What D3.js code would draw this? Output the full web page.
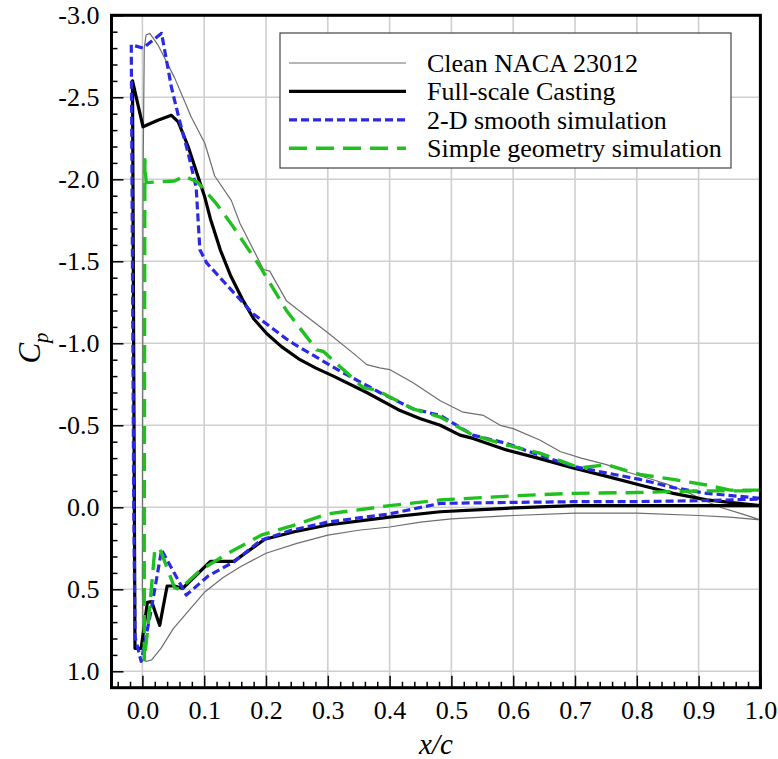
<!DOCTYPE html>
<html>
<head>
<meta charset="utf-8">
<script src="https://cdn.jsdelivr.net/npm/d3@7"></script>
<style>
  html, body { margin: 0; padding: 0; background: #fff; }
  svg { display: block; }
  text { font-family: "Liberation Serif", "Times New Roman", serif; fill: #000; }
</style>
</head>
<body>
<svg id="chart" width="778" height="759"></svg>
<script>
// ---------------- DATA ----------------
const xTicks = [0.0, 0.1, 0.2, 0.3, 0.4, 0.5, 0.6, 0.7, 0.8, 0.9, 1.0];
const xTickLabels = ["0.0", "0.1", "0.2", "0.3", "0.4", "0.5", "0.6", "0.7", "0.8", "0.9", "1.0"];
const yTicks = [-3.0, -2.5, -2.0, -1.5, -1.0, -0.5, 0.0, 0.5, 1.0];
const yTickLabels = ["-3.0", "-2.5", "-2.0", "-1.5", "-1.0", "-0.5", "0.0", "0.5", "1.0"];

const seriesNames = ["Clean NACA 23012", "Full-scale Casting", "2-D smooth simulation", "Simple geometry simulation"];

// Clean NACA 23012 (upper surface TE -> LE, then lower surface LE -> TE)
const cleanX = [1.0, 0.97, 0.94, 0.91, 0.886, 0.85, 0.816, 0.78, 0.751, 0.71, 0.676, 0.643, 0.60, 0.579, 0.552, 0.519, 0.482, 0.438, 0.40, 0.384, 0.363, 0.341, 0.298, 0.26, 0.233, 0.206, 0.196, 0.158, 0.144, 0.117, 0.101, 0.079, 0.052, 0.025, 0.012, 0.006, 0.003, 0.001, 0.0, 0.002, 0.006,
  0.015, 0.03, 0.05, 0.075, 0.10, 0.13, 0.16, 0.20, 0.25, 0.30, 0.35, 0.40, 0.45, 0.50, 0.60, 0.70, 0.80, 0.90, 0.95, 1.0];
const cleanCp = [0.077, 0.04, 0.006, -0.04, -0.085, -0.14, -0.18, -0.22, -0.26, -0.30, -0.34, -0.41, -0.48, -0.50, -0.56, -0.58, -0.65, -0.76, -0.84, -0.85, -0.87, -0.94, -1.07, -1.18, -1.26, -1.44, -1.45, -1.73, -1.87, -2.02, -2.22, -2.38, -2.62, -2.82, -2.89, -2.88, -2.80, -2.0, 0.5, 0.92, 0.94,
  0.93, 0.86, 0.74, 0.63, 0.52, 0.43, 0.36, 0.28, 0.22, 0.17, 0.14, 0.12, 0.09, 0.07, 0.05, 0.035, 0.035, 0.05, 0.06, 0.077];

// Full-scale Casting
const castX = [1.0, 0.95, 0.913, 0.859, 0.805, 0.75, 0.697, 0.64, 0.589, 0.535, 0.514, 0.482, 0.45, 0.417, 0.363, 0.309, 0.28, 0.255, 0.225, 0.201, 0.18, 0.163, 0.143, 0.126, 0.11, 0.101, 0.074, 0.058, 0.047, 0.025, 0.001, -0.016, -0.013, -0.012, -0.002,
  0.008, 0.015, 0.028, 0.040, 0.052, 0.065, 0.11, 0.148, 0.198, 0.246, 0.30, 0.40, 0.482, 0.589, 0.697, 0.80, 0.90, 1.0];
const castCp = [-0.01, -0.03, -0.045, -0.085, -0.136, -0.19, -0.24, -0.30, -0.35, -0.42, -0.44, -0.50, -0.54, -0.59, -0.70, -0.80, -0.85, -0.90, -0.98, -1.06, -1.15, -1.26, -1.41, -1.57, -1.76, -1.89, -2.20, -2.35, -2.39, -2.36, -2.32, -2.60, 0.0, 0.86, 0.86,
  0.58, 0.575, 0.72, 0.48, 0.48, 0.495, 0.33, 0.33, 0.195, 0.149, 0.108, 0.06, 0.027, 0.006, -0.01, -0.01, -0.01, -0.01];

// 2-D smooth simulation
const smoothX = [1.0, 0.913, 0.859, 0.805, 0.75, 0.697, 0.64, 0.589, 0.535, 0.482, 0.438, 0.384, 0.325, 0.293, 0.239, 0.179, 0.104, 0.093, 0.087, 0.074, 0.060, 0.047, 0.031, 0.001, -0.018, -0.014, -0.012, -0.002,
  0.014, 0.031, 0.071, 0.106, 0.149, 0.192, 0.241, 0.30, 0.40, 0.482, 0.60, 0.697, 0.80, 0.90, 1.0];
const smoothCp = [-0.055, -0.085, -0.12, -0.17, -0.21, -0.25, -0.32, -0.39, -0.44, -0.56, -0.60, -0.70, -0.82, -0.89, -1.01, -1.18, -1.49, -1.57, -1.95, -2.16, -2.36, -2.56, -2.89, -2.80, -2.82, 0.0, 0.79, 0.94,
  0.63, 0.26, 0.535, 0.42, 0.33, 0.20, 0.14, 0.09, 0.04, -0.024, -0.03, -0.034, -0.035, -0.04, -0.05];

// Simple geometry simulation
const simpleX = [1.0, 0.951, 0.913, 0.859, 0.805, 0.751, 0.708, 0.643, 0.589, 0.535, 0.482, 0.438, 0.379, 0.357, 0.293, 0.282, 0.233, 0.190, 0.147, 0.120, 0.090, 0.068, 0.052, 0.006, 0.004, 0.003, 0.003,
  0.009, 0.020, 0.028, 0.052, 0.060, 0.095, 0.139, 0.192, 0.246, 0.30, 0.40, 0.482, 0.60, 0.697, 0.80, 0.90, 1.0];
const simpleCp = [-0.105, -0.105, -0.136, -0.17, -0.20, -0.26, -0.24, -0.33, -0.38, -0.44, -0.55, -0.60, -0.715, -0.73, -0.95, -0.96, -1.20, -1.47, -1.71, -1.85, -1.98, -2.02, -1.99, -1.98, -2.12, 0.0, 0.93,
  0.73, 0.26, 0.25, 0.49, 0.50, 0.38, 0.28, 0.17, 0.108, 0.04, -0.01, -0.045, -0.07, -0.085, -0.09, -0.10, -0.10];

// ---------------- CHART ----------------
const svg = d3.select("#chart");
const x = d3.scaleLinear().domain([-0.05, 1.0]).range([111.5, 760.4]);
const y = d3.scaleLinear().domain([-3.0, 1.1]).range([15.3, 687.7]);

const x0 = x.range()[0], x1 = x.range()[1], y0 = y.range()[0], y1 = y.range()[1];

// grid
const grid = svg.append("g").attr("stroke", "#cfcfcf").attr("stroke-width", 1.6);
grid.selectAll("line.gx").data(xTicks).join("line")
  .attr("x1", d => x(d)).attr("x2", d => x(d)).attr("y1", y0).attr("y2", y1);
grid.selectAll("line.gy").data(yTicks).join("line")
  .attr("y1", d => y(d)).attr("y2", d => y(d)).attr("x1", x0).attr("x2", x1);

// axes (inward ticks)
const yMinor = d3.range(-30, 11).map(d => d / 10).filter(d => Math.abs(d * 2 - Math.round(d * 2)) > 1e-6);
const xMinor = d3.range(-2, 51).map(d => d / 50).filter(d => Math.abs(d * 10 - Math.round(d * 10)) > 1e-6);

function styleAxis(g) {
  g.select(".domain").remove();
  g.selectAll(".tick line").attr("stroke", "#000").attr("stroke-width", 1.5);
  g.selectAll(".tick text").style("font-family", "'Liberation Serif', serif").style("font-size", "26px").attr("fill", "#000");
}

svg.append("g").attr("transform", `translate(${x0},0)`)
  .call(d3.axisLeft(y).tickValues(yMinor).tickSize(-6).tickFormat(""))
  .call(styleAxis);
svg.append("g").attr("transform", `translate(${x0},0)`)
  .call(d3.axisLeft(y).tickValues(yTicks).tickSize(-12).tickPadding(12)
    .tickFormat((d, i) => yTickLabels[i]))
  .call(styleAxis);

svg.append("g").attr("transform", `translate(0,${y1})`)
  .call(d3.axisBottom(x).tickValues(xMinor).tickSize(-6).tickFormat(""))
  .call(styleAxis);
svg.append("g").attr("transform", `translate(0,${y1})`)
  .call(d3.axisBottom(x).tickValues(xTicks).tickSize(-12).tickPadding(13)
    .tickFormat((d, i) => xTickLabels[i]))
  .call(styleAxis);

// series
const line = d3.line().x(d => x(d[0])).y(d => y(d[1]));
const zipSeries = (xs, ys) => xs.map((v, i) => [v, ys[i]]);

const styles = [
  { color: "#6e6e6e", width: 1.2, dash: null },
  { color: "#000000", width: 3.2, dash: null },
  { color: "#2a2ae6", width: 3.2, dash: "8,4" },
  { color: "#1fc01f", width: 3.4, dash: "18,9" }
];
const seriesData = [zipSeries(cleanX, cleanCp), zipSeries(castX, castCp), zipSeries(smoothX, smoothCp), zipSeries(simpleX, simpleCp)];

const plot = svg.append("g");
seriesData.forEach((d, i) => {
  plot.append("path").datum(d).attr("d", line)
    .attr("fill", "none").attr("stroke", styles[i].color)
    .attr("stroke-width", styles[i].width)
    .attr("stroke-linejoin", "round")
    .attr("stroke-dasharray", styles[i].dash);
});

// frame
svg.append("rect").attr("x", x0).attr("y", y0).attr("width", x1 - x0).attr("height", y1 - y0)
  .attr("fill", "none").attr("stroke", "#000").attr("stroke-width", 3);

// legend
const lg = svg.append("g");
lg.append("rect").attr("x", 280).attr("y", 33).attr("width", 451).attr("height", 135)
  .attr("fill", "#fff").attr("stroke", "#444").attr("stroke-width", 1.2);
seriesNames.forEach((name, i) => {
  const yy = 63 + i * 28.4;
  lg.append("line").attr("x1", 289).attr("x2", 406).attr("y1", yy).attr("y2", yy)
    .attr("stroke", styles[i].color).attr("stroke-width", styles[i].width)
    .attr("stroke-dasharray", styles[i].dash);
  lg.append("text").attr("x", 427).attr("y", yy + 9).style("font-size", "26px").text(name);
});

// axis titles
const yt = svg.append("text").attr("transform", "translate(40,348) rotate(-90)")
  .attr("text-anchor", "middle").style("font-size", "31px").style("font-style", "italic");
yt.append("tspan").text("C");
yt.append("tspan").attr("dy", 8).style("font-size", "21px").text("p");

svg.append("text").attr("x", 436).attr("y", 754).attr("text-anchor", "middle")
  .style("font-size", "29px").style("font-style", "italic").text("x/c");
</script>
</body>
</html>
